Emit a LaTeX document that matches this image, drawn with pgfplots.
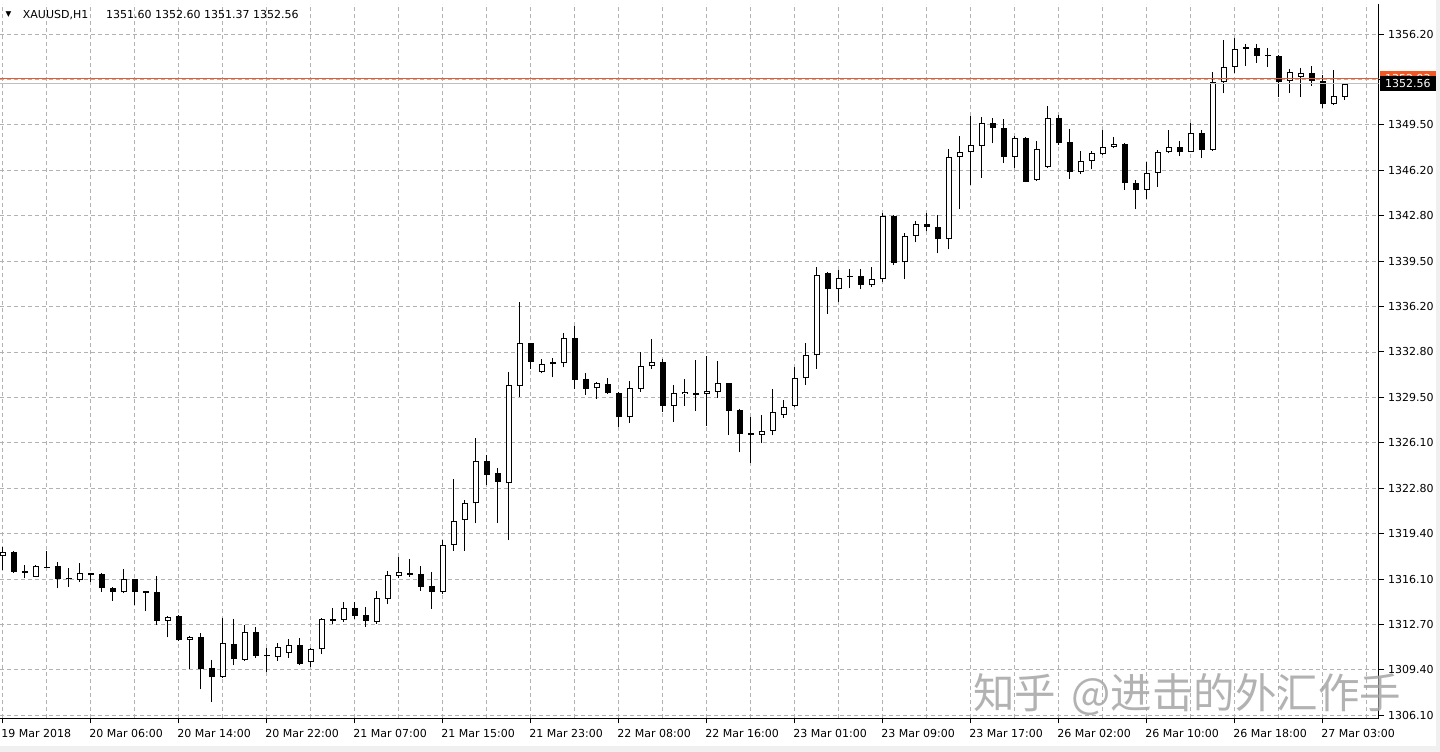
\documentclass[border=0pt]{standalone}
\usepackage{pgfplots}
\pgfplotsset{compat=1.18}
\usepackage{pgfplotstable}
\usepackage{fontspec}
\setmainfont{DejaVu Sans}
\newfontfamily\cjk{Noto Sans CJK SC}
\newcommand{\fs}{\fontsize{11}{13}\selectfont}
\definecolor{gridc}{RGB}{178,178,178}
\definecolor{winc}{RGB}{240,240,240}
\definecolor{orangec}{RGB}{240,88,38}
\definecolor{bidc}{RGB}{192,192,192}
\definecolor{wmc}{RGB}{165,165,165}

\pgfplotstableread{
i o h l c
0 1317.84 1318.48 1316.79 1318.09
1 1318.13 1318.19 1316.57 1316.66
2 1316.74 1317.16 1316.18 1316.59
3 1316.30 1317.18 1316.25 1317.08
4 1317.03 1318.19 1316.94 1316.96
5 1317.08 1317.38 1315.44 1316.13
6 1316.22 1316.94 1315.54 1316.10
7 1316.05 1317.28 1315.93 1316.55
8 1316.55 1316.58 1315.93 1316.40
9 1316.47 1316.59 1315.19 1315.44
10 1315.49 1315.56 1314.53 1315.19
11 1315.15 1316.84 1315.07 1316.10
12 1316.10 1316.12 1314.24 1315.17
13 1315.22 1315.24 1313.80 1315.10
14 1315.15 1316.35 1312.74 1313.04
15 1313.06 1313.41 1311.84 1313.35
16 1313.38 1313.46 1311.57 1311.62
17 1311.64 1311.96 1309.49 1311.88
18 1311.86 1312.18 1308.02 1309.51
19 1309.56 1310.17 1307.06 1308.90
20 1308.92 1313.28 1308.87 1311.44
21 1311.35 1313.19 1309.80 1310.22
22 1310.19 1312.74 1310.12 1312.21
23 1312.21 1312.62 1310.34 1310.49
24 1310.56 1311.05 1309.31 1310.44
25 1310.41 1311.40 1310.12 1311.15
26 1310.69 1311.69 1310.30 1311.27
27 1311.27 1311.77 1309.80 1309.88
28 1310.00 1311.07 1309.63 1310.96
29 1310.96 1313.24 1310.61 1313.16
30 1313.06 1313.97 1312.82 1313.19
31 1313.11 1314.41 1312.99 1313.97
32 1313.97 1314.41 1313.21 1313.41
33 1313.48 1314.09 1312.62 1313.04
34 1312.99 1315.24 1312.82 1314.71
35 1314.66 1316.71 1314.29 1316.40
36 1316.37 1317.77 1316.18 1316.62
37 1316.55 1317.57 1316.30 1316.45
38 1316.49 1317.08 1315.27 1315.56
39 1315.61 1316.66 1313.92 1315.19
40 1315.15 1318.99 1315.00 1318.63
41 1318.63 1323.46 1318.21 1320.41
42 1320.46 1321.94 1318.21 1321.69
43 1321.69 1326.47 1320.22 1324.82
44 1324.82 1325.24 1323.04 1323.77
45 1323.90 1324.27 1320.27 1323.28
46 1323.16 1331.32 1318.99 1330.39
47 1330.34 1336.52 1329.53 1333.46
48 1333.46 1333.50 1331.55 1332.10
49 1331.37 1332.30 1331.25 1331.94
50 1332.08 1332.40 1330.96 1331.91
51 1331.99 1334.19 1331.69 1333.82
52 1333.82 1334.73 1330.12 1330.76
53 1330.81 1331.25 1329.66 1330.12
54 1330.15 1330.59 1329.36 1330.52
55 1330.46 1330.88 1329.73 1329.78
56 1329.82 1329.85 1327.32 1328.02
57 1328.02 1330.71 1327.62 1330.17
58 1330.12 1332.84 1329.90 1331.81
59 1331.81 1333.77 1331.57 1332.06
60 1332.06 1332.28 1328.43 1328.85
61 1328.85 1330.39 1327.69 1329.78
62 1329.73 1330.81 1328.85 1329.88
63 1329.80 1332.23 1328.50 1329.66
64 1329.71 1332.52 1327.38 1329.97
65 1329.90 1332.13 1329.46 1330.52
66 1330.52 1330.55 1326.71 1328.50
67 1328.57 1328.60 1325.44 1326.79
68 1326.86 1328.02 1324.63 1326.71
69 1326.71 1328.19 1326.10 1327.01
70 1327.03 1330.10 1326.69 1328.41
71 1328.19 1329.29 1327.99 1328.80
72 1328.85 1331.74 1328.80 1330.88
73 1330.88 1333.46 1330.39 1332.60
74 1332.57 1339.05 1331.55 1338.50
75 1338.65 1338.72 1335.61 1337.43
76 1337.43 1338.85 1336.52 1338.28
77 1338.32 1338.90 1337.50 1338.42
78 1338.38 1338.92 1337.43 1337.74
79 1337.72 1339.05 1337.62 1338.19
80 1338.16 1343.02 1337.99 1342.84
81 1342.84 1342.89 1339.21 1339.38
82 1339.41 1341.55 1338.16 1341.35
83 1341.35 1342.47 1340.88 1342.23
84 1342.23 1343.04 1341.74 1341.99
85 1342.03 1342.87 1340.07 1341.10
86 1341.10 1347.72 1340.37 1347.18
87 1347.18 1348.70 1343.31 1347.50
88 1347.50 1350.17 1345.10 1348.04
89 1347.99 1350.07 1345.63 1349.63
90 1349.63 1350.05 1348.16 1349.29
91 1349.31 1349.95 1346.74 1347.18
92 1347.18 1348.70 1346.37 1348.53
93 1348.53 1348.60 1345.30 1345.34
94 1345.46 1348.35 1345.42 1347.72
95 1346.44 1350.91 1346.37 1350.05
96 1350.05 1350.24 1348.04 1348.16
97 1348.24 1349.19 1345.54 1346.07
98 1346.07 1347.62 1345.91 1346.88
99 1346.86 1347.62 1346.25 1347.43
100 1347.35 1349.14 1347.30 1347.91
101 1347.91 1348.65 1347.80 1348.13
102 1348.13 1348.16 1344.73 1345.27
103 1345.27 1345.46 1343.31 1344.73
104 1344.73 1346.77 1344.05 1346.00
105 1346.00 1347.67 1344.97 1347.50
106 1347.50 1349.14 1347.43 1347.91
107 1347.91 1348.35 1347.25 1347.55
108 1347.55 1349.63 1347.50 1348.94
109 1348.94 1349.14 1347.06 1347.67
110 1347.67 1353.43 1347.62 1352.65
111 1352.65 1355.76 1351.84 1353.80
112 1353.80 1355.88 1353.35 1355.10
113 1355.22 1355.46 1353.87 1355.10
114 1355.19 1355.44 1354.09 1354.58
115 1354.58 1355.15 1353.80 1354.62
116 1354.60 1354.66 1351.59 1352.65
117 1352.77 1353.60 1351.88 1353.38
118 1353.06 1353.68 1351.55 1353.31
119 1353.31 1353.85 1352.38 1352.77
120 1352.77 1353.19 1350.74 1351.03
121 1351.03 1353.55 1350.98 1351.64
122 1351.60 1352.60 1351.37 1352.56
}\data

\begin{document}
\begin{tikzpicture}[x=1pt,y=1pt]
\useasboundingbox (0,0) rectangle (1440,752);
\fill[white] (0,0) rectangle (1440,752);
\fill[winc] (0,0) rectangle (1440,6);
\fill[winc] (1436,0) rectangle (1440,752);
\begin{axis}[
  at={(0pt,33.5pt)}, anchor=south west,
  scale only axis, width=1378.5pt, height=714pt,
  xmin=-0.245, xmax=125.07, ymin=1305.87, ymax=1358.37,
  axis x line*=bottom, axis y line*=right,
  axis line style={-, black, line width=1pt},
  xtick={0,8,...,120}, minor xtick={4,12,...,124},
  xticklabels={19 Mar 2018,20 Mar 06:00,20 Mar 14:00,20 Mar 22:00,21 Mar 07:00,21 Mar 15:00,21 Mar 23:00,22 Mar 08:00,22 Mar 16:00,23 Mar 01:00,23 Mar 09:00,23 Mar 17:00,26 Mar 02:00,26 Mar 10:00,26 Mar 18:00,27 Mar 03:00},
  ytick={1356.20,1352.86,1349.52,1346.18,1342.84,1339.50,1336.16,1332.82,1329.48,1326.14,1322.80,1319.46,1316.12,1312.78,1309.44,1306.10},
  yticklabels={1356.20,,1349.50,1346.20,1342.80,1339.50,1336.20,1332.80,1329.50,1326.10,1322.80,1319.40,1316.10,1312.70,1309.40,1306.10},
  grid=both,
  major grid style={draw=gridc, line width=0.9pt, dash pattern=on 4pt off 3pt},
  minor grid style={draw=gridc, line width=0.9pt, dash pattern=on 4pt off 3pt},
  tick style={black, line width=1pt},
  major tick length=5pt, minor tick length=0pt, tick align=outside,
  xticklabel style={anchor=north west, inner sep=0pt, xshift=-1.5pt, yshift=-5.5pt, font=\fs},
  yticklabel style={anchor=west, inner sep=0pt, xshift=4.5pt, font=\fs},
  clip mode=individual,
]
% wicks
\addplot[mark=none, draw=none, forget plot,
  error bars/.cd, y dir=plus, y explicit, error mark=none,
  error bar style={draw=black, line width=1.2pt}]
  table[x=i, y=l, y error expr=\thisrow{h}-\thisrow{l}] {\data};
% bodies (outline / bearish fill)
\addplot[mark=none, draw=none, forget plot,
  error bars/.cd, y dir=plus, y explicit, error mark=none,
  error bar style={draw=black, line width=6pt}]
  table[x=i, y expr={min(\thisrow{o},\thisrow{c})},
        y error expr={max(abs(\thisrow{c}-\thisrow{o}),0.08)}] {\data};
% bullish interiors
\addplot[mark=none, draw=none, forget plot,
  error bars/.cd, y dir=plus, y explicit, error mark=none,
  error bar style={draw=white, line width=4pt}]
  table[x=i, y expr={\thisrow{o}+0.0735},
        y error expr={max(\thisrow{c}-\thisrow{o}-0.147,0)}] {\data};
% bid and ask lines
\addplot[bidc, line width=1pt, mark=none] coordinates {(-1,1352.56) (126,1352.56)};
\addplot[orangec, line width=1pt, mark=none] coordinates {(-1,1352.94) (126,1352.94)};
\node[fill=orangec, text=white, anchor=west, minimum width=55.5pt, minimum height=14.5pt, inner sep=0pt, font=\fs, xshift=1.5pt] at (axis cs:125.07,1352.94) {1352.93};
\node[fill=black, text=white, anchor=west, minimum width=55.5pt, minimum height=14.5pt, inner sep=0pt, font=\fs, xshift=1.5pt] at (axis cs:125.07,1352.56) {1352.56};
\end{axis}
\node[anchor=west, inner sep=0pt, font=\fontsize{7.5}{8}\selectfont] at (5.5,737) {▼};
\node[anchor=west, inner sep=0pt, font=\fs] at (22.7,737) {XAUUSD,H1};
\node[anchor=west, inner sep=0pt, font=\fs] at (106,737) {1351.60 1352.60 1351.37 1352.56};
\node[anchor=west, inner sep=0pt, text=wmc, text opacity=0.85, font=\cjk\fontsize{41.5}{44}\selectfont] at (973,57) {知乎\hspace{6pt} @进击的外汇作手};
\end{tikzpicture}
\end{document}
